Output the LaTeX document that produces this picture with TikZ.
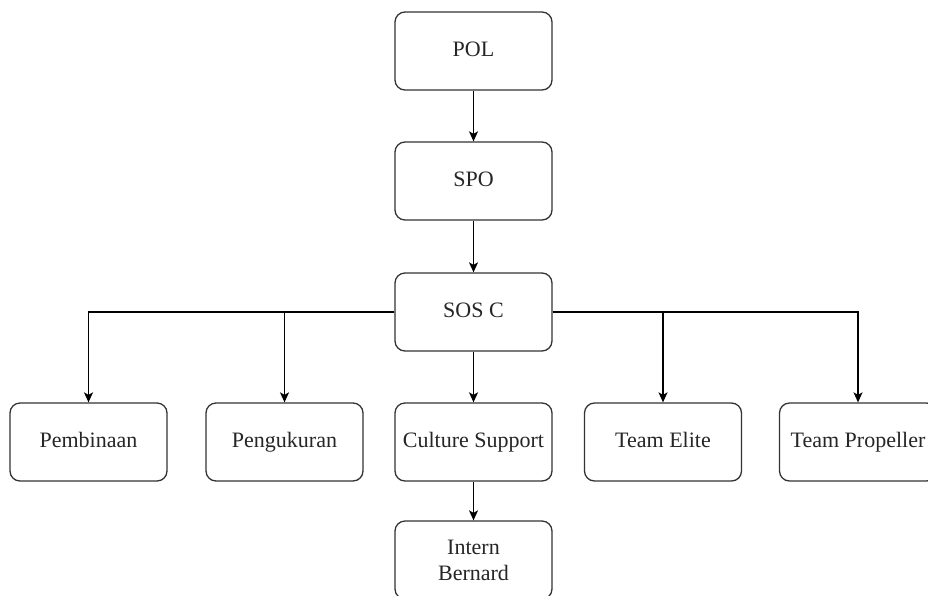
\documentclass[tikz,border=0pt]{standalone}
\usepackage{fontspec}
\setmainfont{Liberation Serif}
\usetikzlibrary{arrows.meta}
\definecolor{boxline}{HTML}{333333}
\definecolor{txt}{HTML}{262626}
\tikzset{
  orgbox/.style={draw=boxline, line width=1.3pt, rounded corners=10pt, fill=white,
    minimum width=157pt, minimum height=78pt, inner sep=2pt, align=center,
    font=\fontsize{22}{26}\selectfont, text=txt},
  oneline/.style={orgbox, text height=15pt, text depth=5pt},
  conn/.style={draw=black, line width=1.3pt, -{Stealth[length=10pt,width=9pt,inset=2.5pt]}}
}
\begin{document}
\begin{tikzpicture}[x=1pt,y=1pt]
\useasboundingbox[fill=white] (0,0) rectangle (928,-595);
\node[oneline] (pol) at (473.5,-51) {POL};
\node[oneline] (spo) at (473.5,-181) {SPO};
\node[oneline] (sos) at (473.5,-312) {SOS C};
\node[oneline] (pem) at (88.5,-442) {Pembinaan};
\node[oneline] (pen) at (284.5,-442) {Pengukuran};
\node[oneline] (cul) at (473.5,-442) {Culture Support};
\node[oneline] (elite) at (663,-442) {Team Elite};
\node[oneline] (prop) at (858,-442) {Team Propeller};
\node[orgbox] (intern) at (473.5,-560) {Intern\\Bernard};
\draw[conn] (pol) -- (spo);
\draw[conn] (spo) -- (sos);
\draw[conn] (sos) -- (cul);
\draw[conn] (cul) -- (intern);
\draw[conn] (sos.west) -| (pem.north);
\draw[conn] (sos.west) -| (pen.north);
\draw[conn] (sos.east) -| (elite.north);
\draw[conn] (sos.east) -| (prop.north);
\end{tikzpicture}
\end{document}
